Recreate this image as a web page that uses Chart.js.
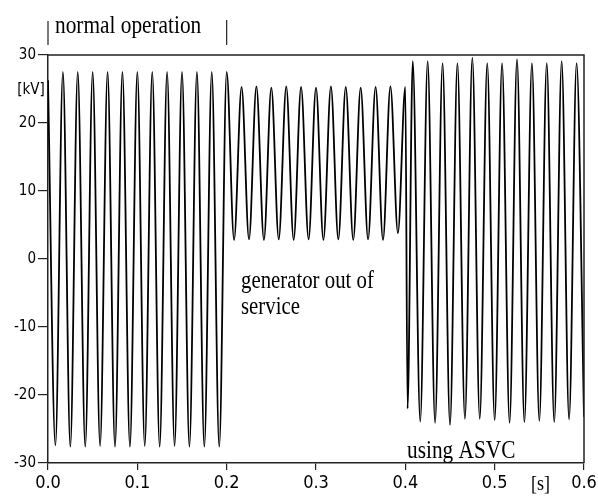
<!DOCTYPE html>
<html>
<head>
<meta charset="utf-8">
<script src="https://cdn.jsdelivr.net/npm/chart.js@4.4.0/dist/chart.umd.min.js"></script>
<style>
  html, body { margin: 0; padding: 0; background: #fff; }
  #wrap { width: 598px; height: 498px; }
</style>
</head>
<body>
<div id="wrap"><canvas id="chart"></canvas></div>
<script>
// extrema of the voltage trace (time in s, voltage in kV)
const normalT = [0, 0.0083, 0.0167, 0.025, 0.0333, 0.0417, 0.05, 0.0583, 0.0667, 0.075, 0.0833, 0.0917, 0.1,
                 0.1083, 0.1167, 0.125, 0.1333, 0.1417, 0.15, 0.1583, 0.1667, 0.175, 0.1833, 0.1917, 0.2];
const normalV = [26.3, -27.4, 27.5, -27.6, 27.5, -27.6, 27.5, -27.5, 27.5, -27.6, 27.5, -27.6, 27.5,
                 -27.5, 27.5, -27.6, 27.5, -27.5, 27.5, -27.6, 27.5, -27.6, 27.5, -27.6, 27.5];
const outageT = [0.2083, 0.2167, 0.225, 0.2333, 0.2417, 0.25, 0.2583, 0.2667, 0.275, 0.2833, 0.2917, 0.3,
                 0.3083, 0.3167, 0.325, 0.3333, 0.3417, 0.35, 0.3583, 0.3667, 0.375, 0.3833, 0.3917, 0.4, 0.4025];
const outageV = [2.8, 25.3, 2.9, 25.4, 2.8, 25.2, 2.9, 25.4, 2.8, 25.3, 2.9, 25.2,
                 2.8, 25.4, 2.9, 25.3, 2.8, 25.2, 2.9, 25.3, 2.8, 25.4, 3.8, 25.3, -22.0];
const asvcT = [0.4083, 0.4167, 0.425, 0.4333, 0.4417, 0.45, 0.4583, 0.4667, 0.475, 0.4833, 0.4917, 0.5,
               0.5083, 0.5167, 0.525, 0.5333, 0.5417, 0.55, 0.5583, 0.5667, 0.575, 0.5833, 0.5917, 0.6];
const asvcV = [29.1, -23.9, 29.1, -24.1, 28.8, -24.4, 28.8, -23.5, 29.6, -23.5, 28.8, -23.7,
               28.8, -24.1, 29.4, -24.0, 28.8, -23.8, 28.8, -24.0, 29.1, -23.6, 28.8, -23.2];

const xTicks = [0, 0.1, 0.2, 0.3, 0.4, 0.5, 0.6];
const yTicks = [-30, -20, -10, 0, 10, 20, 30];

const allT = normalT.concat(outageT, asvcT);
const allV = normalV.concat(outageV, asvcV);
const points = allT.map((t, i) => ({ x: t, y: allV[i] }));

const tickFont = '"DejaVu Sans Condensed", "Liberation Sans Narrow", "Liberation Sans", sans-serif';
const noteFont = '"Liberation Serif", "DejaVu Serif", serif';

function squeezedText(ctx, txt, x, y, size, sx) {
    ctx.save();
    ctx.translate(x, y);
    ctx.scale(sx, 1);
    ctx.font = size + 'px ' + noteFont;
    ctx.fillStyle = '#000';
    ctx.textBaseline = 'alphabetic';
    ctx.fillText(txt, 0, 0);
    ctx.restore();
}

const decorations = {
    id: 'decorations',
    afterDraw(chart) {
        const ctx = chart.ctx;
        const a = chart.chartArea;
        const xs = chart.scales.x;
        // top and right frame
        ctx.save();
        ctx.strokeStyle = '#222';
        ctx.lineWidth = 1.5;
        ctx.beginPath();
        ctx.moveTo(a.left, a.top);
        ctx.lineTo(a.right, a.top);
        ctx.lineTo(a.right, a.bottom);
        ctx.stroke();

        // bars around "normal operation"
        ctx.lineWidth = 1.2;
        ctx.beginPath();
        ctx.moveTo(xs.getPixelForValue(0), 21);
        ctx.lineTo(xs.getPixelForValue(0), 45);
        ctx.moveTo(xs.getPixelForValue(0.2), 20);
        ctx.lineTo(xs.getPixelForValue(0.2), 45);
        ctx.stroke();
        ctx.restore();

        squeezedText(ctx, 'normal operation', 55, 33, 26, 0.82);
        squeezedText(ctx, 'generator out of', 241, 288, 26, 0.8);
        squeezedText(ctx, 'service', 241, 314, 26, 0.8);
        squeezedText(ctx, 'using ASVC', 407, 458, 26, 0.82);

        // unit labels
        ctx.save();
        ctx.fillStyle = '#000';
        ctx.textAlign = 'center';
        ctx.textBaseline = 'middle';
        ctx.font = '15px ' + tickFont;
        ctx.fillText('[kV]', 31, 90);
        ctx.restore();
        squeezedText(ctx, '[s]', 531, 490, 20, 0.9);
    }
};

new Chart(document.getElementById('chart'), {
    type: 'line',
    data: {
        datasets: [{
            data: points,
            borderColor: '#000',
            borderWidth: 1.8,
            pointRadius: 0,
            cubicInterpolationMode: 'monotone',
            fill: false
        }]
    },
    options: {
        responsive: true, maintainAspectRatio: false, animation: false,
        layout: { padding: { top: 55, right: 14, left: 0, bottom: 0 } },
        plugins: { legend: { display: false }, tooltip: { enabled: false } },
        scales: {
            x: {
                type: 'linear', min: 0, max: 0.6,
                afterBuildTicks: s => { s.ticks = xTicks.map(v => ({ value: v })); },
                afterFit: s => { s.height = 35; s.paddingLeft = 0; s.paddingRight = 0; },
                ticks: {
                    autoSkip: false, maxRotation: 0, padding: 3, color: '#000',
                    font: { family: tickFont, size: 18 },
                    callback: v => v.toFixed(1)
                },
                grid: { display: true, drawOnChartArea: false, drawTicks: true, tickLength: 7, color: '#222', lineWidth: 1.2 },
                border: { display: true, color: '#222', width: 1.5 }
            },
            y: {
                type: 'linear', min: -30, max: 30,
                afterBuildTicks: s => { s.ticks = yTicks.map(v => ({ value: v })); },
                afterFit: s => { s.width = 48; s.paddingTop = 0; s.paddingBottom = 0; },
                ticks: {
                    autoSkip: false, padding: 2, color: '#000',
                    font: { family: tickFont, size: 15 },
                    callback: v => String(v)
                },
                grid: { display: true, drawOnChartArea: false, drawTicks: true, tickLength: 10, color: '#222', lineWidth: 1.2 },
                border: { display: true, color: '#222', width: 1.5 }
            }
        }
    },
    plugins: [decorations]
});
</script>
</body>
</html>
